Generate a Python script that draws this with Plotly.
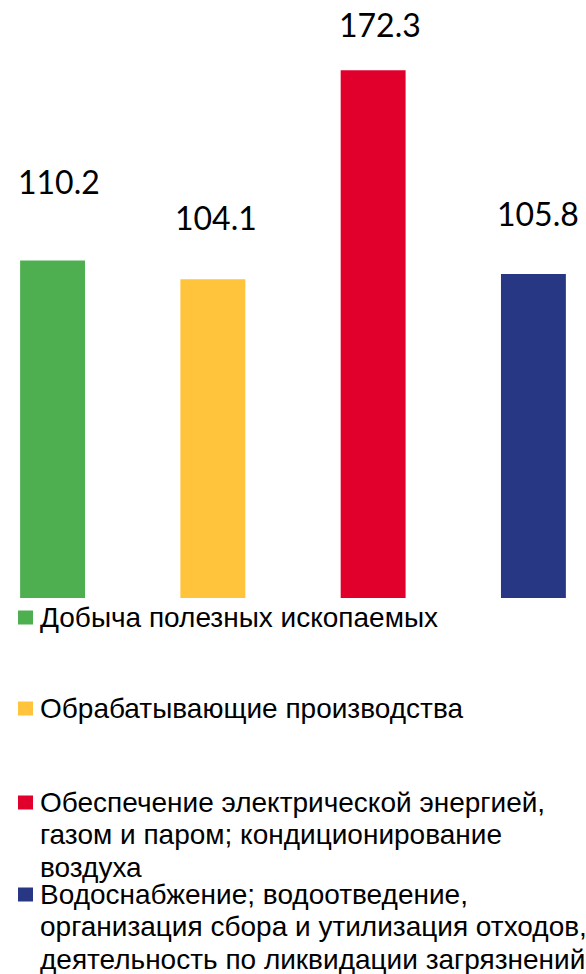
import plotly.graph_objects as go

# ---- data ----
categories = [
    "Добыча полезных ископаемых",
    "Обрабатывающие производства",
    "Обеспечение электрической энергией, газом и паром; кондиционирование воздуха",
    "Водоснабжение; водоотведение, организация сбора и утилизация отходов, деятельность по ликвидации загрязнений",
]
legend_lines = [
    ["Добыча полезных ископаемых"],
    ["Обрабатывающие производства"],
    ["Обеспечение электрической энергией,", "газом и паром; кондиционирование", "воздуха"],
    ["Водоснабжение; водоотведение,", "организация сбора и утилизация отходов,", "деятельность по ликвидации загрязнений"],
]
values = [110.2, 104.1, 172.3, 105.8]
value_labels = ["110.2", "104.1", "172.3", "105.8"]
colors = ["#4EAF50", "#FFC33C", "#E0002B", "#283784"]

# ---- style ----
W, H = 586, 974
label_yshift = [58, 41, 25, 40]
label_xshift = [6, 3, 7, 5]
legend_baselines_px = [627, 718, 812, 904]
LEG_FONT = 28
LEG_LINE = 32.5

fig = go.Figure()
fig.add_trace(go.Bar(
    x=categories, y=values, marker=dict(color=colors, line=dict(width=0)),
    width=0.405, showlegend=False, hoverinfo="x+y",
))

annotations = []
for cat, v, lab, ys, xs in zip(categories, values, value_labels, label_yshift, label_xshift):
    annotations.append(dict(
        x=cat, y=v, xref="x", yref="y", text=lab, showarrow=False,
        yanchor="bottom", xanchor="center", yshift=ys, xshift=xs,
        font=dict(family="Lato", size=32, color="#000000"), borderpad=0,
    ))

shapes = []
for lines, col, bl in zip(legend_lines, colors, legend_baselines_px):
    cy = bl - 9.5
    shapes.append(dict(
        type="rect", xref="paper", yref="paper",
        x0=18 / W, x1=33 / W, y0=1 - (cy + 7) / H, y1=1 - (cy - 7) / H,
        fillcolor=col, line=dict(width=0),
    ))
    for i, line in enumerate(lines):
        base = bl + i * LEG_LINE
        annotations.append(dict(
            x=39 / W, y=1 - (base - 0.94 * LEG_FONT) / H, xref="paper", yref="paper",
            text=line, showarrow=False, align="left",
            xanchor="left", yanchor="top", borderpad=0,
            font=dict(family="Liberation Sans, Arial", size=LEG_FONT, color="#000000"),
        ))

fig.update_layout(
    width=W, height=H, autosize=False,
    margin=dict(l=0, r=0, t=0, b=0),
    paper_bgcolor="white", plot_bgcolor="white",
    xaxis=dict(range=[-0.328, 3.328], showticklabels=False, showgrid=False,
               zeroline=False, showline=False, ticks=""),
    yaxis=dict(domain=[(H - 598) / H, 1], range=[0, 598 / 3.063], showticklabels=False,
               showgrid=False, zeroline=False, showline=False, ticks=""),
    annotations=annotations, shapes=shapes, bargap=0.6,
)

fig.write_html("out.html", config={"displayModeBar": False},
               post_script="document.body.style.margin='0';")
